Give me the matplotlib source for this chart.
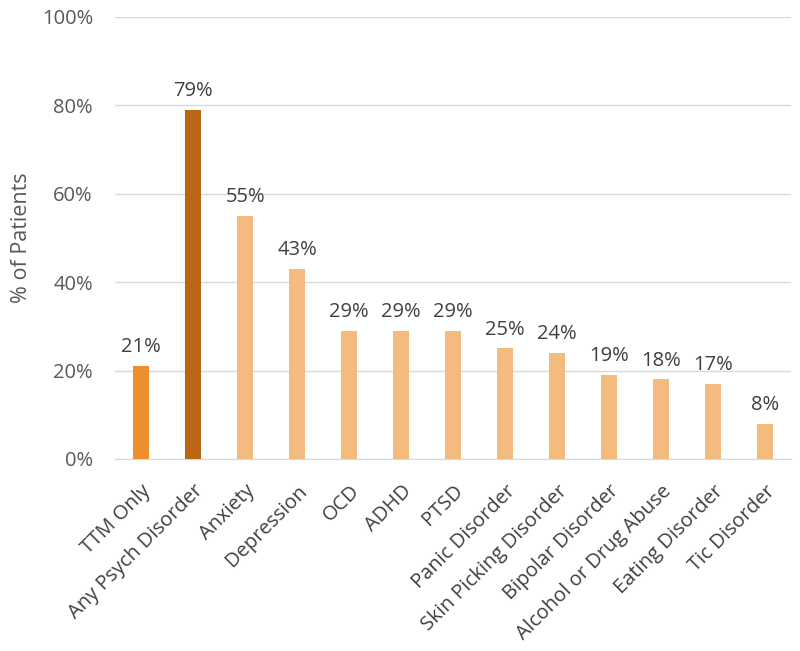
import matplotlib
matplotlib.use("Agg")
import matplotlib.pyplot as plt
from matplotlib.ticker import PercentFormatter

categorias = ['TTM Only', 'Any Psych Disorder', 'Anxiety', 'Depression', 'OCD', 'ADHD', 'PTSD',
              'Panic Disorder', 'Skin Picking Disorder', 'Bipolar Disorder',
              'Alcohol or Drug Abuse', 'Eating Disorder', 'Tic Disorder']
valores = [21, 79, 55, 43, 29, 29, 29, 25, 24, 19, 18, 17, 8]
cores = ['#EE8F2E', '#BA6612'] + ['#F4BB7E'] * 11

plt.rcParams['font.family'] = ['Open Sans', 'DejaVu Sans']
texto = '#404040'

fig = plt.figure(figsize=(8, 6.51), dpi=100)
ax = fig.add_axes([0.144, 0.295, 0.845, 0.679])

x = range(len(categorias))
ax.bar(x, valores, width=0.31, color=cores, zorder=3)

for i, v in enumerate(valores):
    ax.text(i, v + 2.0, f'{v}%', ha='center', va='bottom', fontsize=14.5, color=texto)

ax.set_ylim(0, 100)
ax.set_xlim(-0.5, len(categorias) - 0.5)
ax.set_yticks(range(0, 101, 20))
ax.yaxis.set_major_formatter(PercentFormatter(decimals=0))
ax.grid(axis='y', color='#D9D9D9', linewidth=1, zorder=0)

ax.set_xticks(list(x))
ax.set_xticklabels(categorias, rotation=45, ha='right', rotation_mode='anchor', fontsize=14.5, color=texto)
ax.tick_params(axis='x', length=0, pad=16)
ax.tick_params(axis='y', length=0, pad=16, labelsize=14.5, labelcolor='#595959')

for s in ['top', 'right', 'left']:
    ax.spines[s].set_visible(False)
ax.spines['bottom'].set_color('#D9D9D9')

ax.set_ylabel('% of Patients', fontsize=15.5, color='#595959', labelpad=7)

fig.savefig('out.png', dpi=100)
